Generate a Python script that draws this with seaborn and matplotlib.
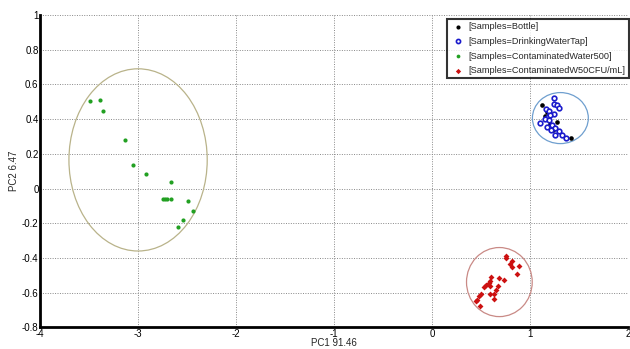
import numpy as np
import pandas as pd
import seaborn as sns
import matplotlib
matplotlib.use("Agg")
import matplotlib.pyplot as plt
from matplotlib.patches import Ellipse

categories = ["[Samples=Bottle]", "[Samples=DrinkingWaterTap]",
              "[Samples=ContaminatedWater500]", "[Samples=ContaminatedW50CFU/mL]"]

bottle_x = [1.119, 1.146, 1.272, 1.418, 1.17, 1.20, 1.23]
bottle_y = [0.484, 0.420, 0.382, 0.292, 0.44, 0.37, 0.34]

tap_x = [1.237, 1.237, 1.272, 1.288, 1.160, 1.190, 1.245, 1.180, 1.153, 1.190,
         1.100, 1.221, 1.170, 1.255, 1.214, 1.295, 1.322, 1.255, 1.364, 1.204]
tap_y = [0.523, 0.490, 0.480, 0.465, 0.461, 0.446, 0.432, 0.413, 0.400, 0.394,
         0.380, 0.369, 0.356, 0.346, 0.336, 0.330, 0.311, 0.307, 0.292, 0.422]

cw500_x = [-3.49, -3.39, -3.36, -3.13, -3.05, -2.92, -2.66, -2.75, -2.73, -2.71,
           -2.66, -2.49, -2.44, -2.54, -2.59]
cw500_y = [0.507, 0.513, 0.444, 0.277, 0.138, 0.086, 0.035, -0.058, -0.058, -0.058,
           -0.063, -0.069, -0.127, -0.184, -0.219]

cw50_x = [0.752, 0.752, 0.817, 0.796, 0.817, 0.885, 0.868, 0.681, 0.735, 0.603,
          0.593, 0.579, 0.552, 0.528, 0.593, 0.667, 0.654, 0.633, 0.593, 0.627,
          0.498, 0.481, 0.457, 0.447, 0.491]
cw50_y = [-0.386, -0.400, -0.415, -0.434, -0.453, -0.444, -0.490, -0.515, -0.525, -0.510,
          -0.530, -0.546, -0.555, -0.569, -0.559, -0.559, -0.584, -0.607, -0.607, -0.636,
          -0.607, -0.622, -0.642, -0.650, -0.678]

# ellipses: center x, center y, full width, full height
ell_cx = [1.306, -3.00, 0.684]
ell_cy = [0.406, 0.165, -0.539]
ell_w = [0.57, 1.41, 0.67]
ell_h = [0.294, 1.05, 0.398]
ell_colors = ["#6f9fcf", "#b9b38a", "#c98a86"]

xticks = [-4, -3, -2, -1, 0, 1, 2]
yticks = [-0.8, -0.6, -0.4, -0.2, 0, 0.2, 0.4, 0.6, 0.8, 1]

df = pd.DataFrame({
    "x": bottle_x + tap_x + cw500_x + cw50_x,
    "y": bottle_y + tap_y + cw500_y + cw50_y,
    "Samples": [categories[0]] * len(bottle_x) + [categories[1]] * len(tap_x)
               + [categories[2]] * len(cw500_x) + [categories[3]] * len(cw50_x),
})

sns.set_style("white")
plt.rcParams["font.family"] = ["Liberation Sans", "DejaVu Sans"]

fig = plt.figure(figsize=(6.3, 3.49), dpi=100)
ax = fig.add_axes([0.0635, 0.062, 0.934, 0.895])

for cx, cy, w, h, c in zip(ell_cx, ell_cy, ell_w, ell_h, ell_colors):
    ax.add_patch(Ellipse((cx, cy), w, h, fill=False, edgecolor=c, lw=0.9, zorder=1))

styles = {
    categories[0]: dict(color="black", marker="o", s=11, edgecolor="black", lw=0),
    categories[1]: dict(color="white", marker="o", s=11, edgecolor="#1a1acc", lw=1.2),
    categories[2]: dict(color="#22a022", marker="o", s=9, edgecolor="#22a022", lw=0),
    categories[3]: dict(color="#cc1111", marker="D", s=9, edgecolor="#cc1111", lw=0),
}
for cat in categories:
    sub = df[df["Samples"] == cat]
    st = styles[cat]
    sns.scatterplot(data=sub, x="x", y="y", ax=ax, color=st["color"], marker=st["marker"],
                    s=st["s"], edgecolor=st["edgecolor"], linewidth=st["lw"], label=cat,
                    zorder=3)

ax.set_xlim(-4, 2)
ax.set_ylim(-0.8, 1)
ax.set_xticks(xticks)
ax.set_yticks(yticks)
ax.set_xticklabels([str(t) for t in xticks])
ax.set_yticklabels(["-0.8", "-0.6", "-0.4", "-0.2", "0", "0.2", "0.4", "0.6", "0.8", "1"])
ax.grid(True, linestyle=(0, (1, 1.5)), color="#888888", lw=0.7)
ax.tick_params(direction="in", length=4, width=2, labelsize=7, pad=1, colors="black")
for side in ["top", "right"]:
    ax.spines[side].set_visible(False)
for side in ["left", "bottom"]:
    ax.spines[side].set_linewidth(2)
    ax.spines[side].set_color("black")
ax.set_xlabel("PC1 91.46", fontsize=7, labelpad=-0.5)
ax.set_ylabel("PC2 6.47", fontsize=7, labelpad=2)

leg = ax.legend(loc="upper right", bbox_to_anchor=(629 / 630, 1 - 19 / 349),
                bbox_transform=fig.transFigure, fontsize=6.6, frameon=True, fancybox=False,
                edgecolor="black", borderpad=0.35, labelspacing=0.62, handletextpad=0.4,
                borderaxespad=0.0, markerscale=0.9, handlelength=1.6)
leg.get_frame().set_linewidth(1.5)

fig.savefig("out.png", dpi=100)
